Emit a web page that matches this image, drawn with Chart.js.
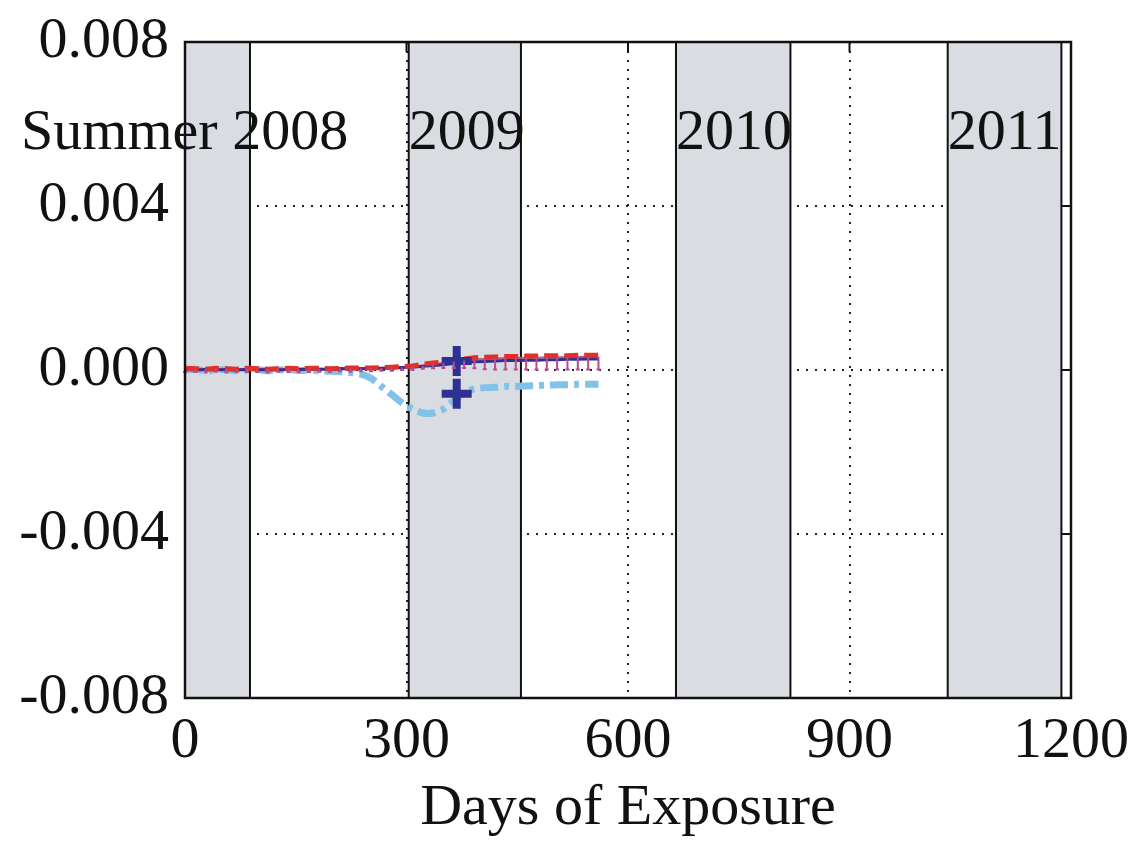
<!DOCTYPE html>
<html><head><meta charset="utf-8">
<script src="https://cdn.jsdelivr.net/npm/chart.js@4.4.1/dist/chart.umd.min.js"></script>
<style>html,body{margin:0;padding:0;background:#fff;} #wrap{width:1131px;height:850px;position:relative;}</style>
</head><body><div id="wrap"><canvas id="c"></canvas></div>
<script>
const days = [0, 14, 28, 42, 56, 70, 84, 98, 112, 126, 140, 154, 168, 182, 196, 210, 224, 238, 252, 266, 280, 294, 308, 322, 336, 350, 364, 378, 392, 406, 420, 434, 448, 462, 476, 490, 504, 518, 532, 546, 560];
const redVals = [0.00004, 0.00003, 0.00002, 0.00004, 0.00003, 0.00002, 0.00004, 0.00003, 0.00002, 0.00003, 0.00004, 0.00003, 0.00004, 0.00004, 0.00003, 0.00004, 0.00005, 0.00005, 0.00005, 0.00006, 0.00007, 0.00008, 0.0001, 0.00014, 0.00017, 0.0002, 0.00024, 0.00027, 0.0003, 0.00031, 0.00032, 0.00033, 0.00033, 0.00034, 0.00034, 0.00035, 0.00035, 0.00035, 0.00036, 0.00036, 0.00036];
const navyVals = [0.00001, 0.0, 0.00001, 0.0, 0.00001, 0.0, 0.00001, 0.0, 0.00001, 0.0, 0.00001, 0.00001, 0.00002, 0.00002, 0.00002, 0.00003, 0.00003, 0.00003, 0.00004, 0.00004, 0.00005, 0.00006, 0.00007, 0.00009, 0.00011, 0.00013, 0.00016, 0.00018, 0.0002, 0.00021, 0.00022, 0.00023, 0.00023, 0.00024, 0.00024, 0.00025, 0.00025, 0.00026, 0.00026, 0.00027, 0.00027];
const magentaVals = [0.00003, 0.00002, 0.00002, 0.00003, 0.00002, 0.00002, 0.00003, 0.00002, 0.00002, 0.00003, 0.00003, 0.00002, 0.00003, 0.00003, 0.00003, 0.00004, 0.00004, 0.00004, 0.00005, 0.00005, 0.00006, 0.00007, 0.00008, 0.00011, 0.00014, 0.00017, 0.0002, 0.00023, 0.00026, 0.00027, 0.00028, 0.00029, 0.00029, 0.0003, 0.0003, 0.00031, 0.00031, 0.00031, 0.00032, 0.00032, 0.00032];
const magentaErr = [0.00008, 0.00007, 0.00008, 0.00007, 0.00008, 0.00007, 0.00008, 0.00007, 0.00008, 0.00007, 0.00008, 0.00007, 0.00008, 0.00007, 0.00008, 0.00007, 0.00008, 0.00007, 0.00008, 0.00007, 0.00008, 0.00007, 0.00008, 0.00008, 0.0001, 0.00012, 0.00015, 0.00018, 0.00022, 0.00025, 0.00027, 0.00028, 0.00028, 0.00029, 0.00029, 0.0003, 0.0003, 0.0003, 0.00031, 0.00031, 0.00031];
const lightVals = [0.0, 0.00002, -0.00002, 0.0, 0.00001, -0.00002, 0.0, 0.00001, -0.00002, 0.0, 0.00001, -0.00001, 0.0, -0.00002, -0.00003, -0.00004, -0.00006, -0.0001, -0.0002, -0.0004, -0.0006, -0.0008, -0.00095, -0.00105, -0.00105, -0.00095, -0.00075, -0.00055, -0.00046, -0.00043, -0.00042, -0.0004, -0.0004, -0.00039, -0.00038, -0.00037, -0.00036, -0.00036, -0.00035, -0.00035, -0.00035];
const crossDays = [368, 368];
const crossVals = [0.00022, -0.00058];
const bandStarts = [0, 303, 665, 1033];
const bandEnds = [88, 455, 820, 1187];
const yearLabels = ['Summer 2008', '2009', '2010', '2011'];
const yearLabelDays = [-222, 303, 665, 1033];
const yearLabelValue = 0.0054;
const xTicks = [0, 300, 600, 900, 1200];
const yTicks = [-0.008, -0.004, 0.0, 0.004, 0.008];

const FONT = "'Liberation Serif', 'Times New Roman', serif";
const FS = 58;
const pts = (xs, ys) => xs.map((x, i) => ({x: x, y: ys[i]}));

const decor = {
  id: 'decor',
  beforeDatasetsDraw(chart) {
    const {ctx, chartArea: a, scales: {x, y}} = chart;
    ctx.save();
    for (let i = 0; i < bandStarts.length; i++) {
      const x0 = x.getPixelForValue(bandStarts[i]);
      const x1 = x.getPixelForValue(bandEnds[i]);
      ctx.fillStyle = '#d9dde2';
      ctx.fillRect(x0, a.top, x1 - x0, a.bottom - a.top);
      ctx.strokeStyle = '#111';
      ctx.lineWidth = 2;
      ctx.beginPath();
      ctx.moveTo(x0, a.top); ctx.lineTo(x0, a.bottom);
      ctx.moveTo(x1, a.top); ctx.lineTo(x1, a.bottom);
      ctx.stroke();
    }
    ctx.restore();
  },
  afterDatasetsDraw(chart) {
    const {ctx, chartArea: a, scales: {x, y}} = chart;
    ctx.save();
    ctx.strokeStyle = '#b84c93';
    ctx.lineWidth = 2;
    for (let i = 0; i < days.length; i++) {
      const px = x.getPixelForValue(days[i]);
      const py0 = y.getPixelForValue(magentaVals[i]);
      const py1 = y.getPixelForValue(magentaVals[i] - magentaErr[i]);
      ctx.beginPath();
      ctx.moveTo(px, py0); ctx.lineTo(px, py1);
      ctx.moveTo(px - 2, py1); ctx.lineTo(px + 2, py1);
      ctx.stroke();
    }
    ctx.strokeStyle = '#111';
    ctx.lineWidth = 2.5;
    ctx.strokeRect(a.left, a.top, a.right - a.left, a.bottom - a.top);
    ctx.lineWidth = 2;
    ctx.beginPath();
    yTicks.forEach(v => {
      const py = y.getPixelForValue(v);
      ctx.moveTo(a.right, py); ctx.lineTo(a.right - 10, py);
    });
    xTicks.forEach(v => {
      const px = x.getPixelForValue(v);
      ctx.moveTo(px, a.top); ctx.lineTo(px, a.top + 10);
    });
    ctx.stroke();
    ctx.fillStyle = '#111';
    ctx.font = FS + 'px ' + FONT;
    ctx.textAlign = 'left';
    ctx.textBaseline = 'alphabetic';
    const by = y.getPixelForValue(yearLabelValue);
    yearLabels.forEach((t, i) => {
      ctx.fillText(t, x.getPixelForValue(yearLabelDays[i]), by);
    });
    ctx.restore();
  }
};

new Chart(document.getElementById('c'), {
  type: 'line',
  data: {
    datasets: [
      {label: 'light', data: pts(days, lightVals), borderColor: '#82c2e8', borderWidth: 7, borderDash: [18, 6, 5, 6], pointRadius: 0, tension: 0.2, order: 4},
      {label: 'magenta', data: pts(days, magentaVals), borderColor: '#c05a96', borderWidth: 2, pointRadius: 0, order: 3},
      {label: 'navy', data: pts(days, navyVals), borderColor: '#2e3192', borderWidth: 3, pointRadius: 0, order: 2},
      {label: 'red', data: pts(days, redVals), borderColor: '#e0302a', borderWidth: 5, borderDash: [14, 6], pointRadius: 0, order: 1},
      {label: 'cross', data: pts(crossDays, crossVals), showLine: false, pointStyle: 'cross', pointRadius: 15, borderColor: '#2e3192', borderWidth: 8, order: 0}
    ]
  },
  options: {
    responsive: true,
    maintainAspectRatio: false,
    animation: false,
    layout: {autoPadding: false, padding: {left: 0, top: 42, right: 60, bottom: 0}},
    plugins: {legend: {display: false}, tooltip: {enabled: false}},
    scales: {
      x: {
        type: 'linear', min: 0, max: 1200,
        afterBuildTicks: s => { s.ticks = xTicks.map(v => ({value: v})); },
        afterFit: s => { s.height = 152; s.paddingLeft = 0; s.paddingRight = 0; },
        grid: {color: '#222', lineWidth: 2, drawTicks: false},
        border: {display: false, dash: [2, 7]},
        ticks: {padding: 9, color: '#111', font: {family: FONT, size: FS}, maxRotation: 0, callback: v => String(v)},
        title: {display: true, text: 'Days of Exposure', color: '#111', font: {family: FONT, size: FS}, padding: {top: 0, bottom: 6}}
      },
      y: {
        type: 'linear', min: -0.008, max: 0.008,
        afterBuildTicks: s => { s.ticks = yTicks.map(v => ({value: v})); },
        afterFit: s => { s.width = 185; s.paddingTop = 0; s.paddingBottom = 0; },
        grid: {color: '#222', lineWidth: 2, drawTicks: false},
        border: {display: false, dash: [2, 7]},
        ticks: {padding: 16, color: '#111', font: {family: FONT, size: FS}, callback: v => Number(v).toFixed(3)}
      }
    }
  },
  plugins: [decor]
});
</script>
</body></html>
